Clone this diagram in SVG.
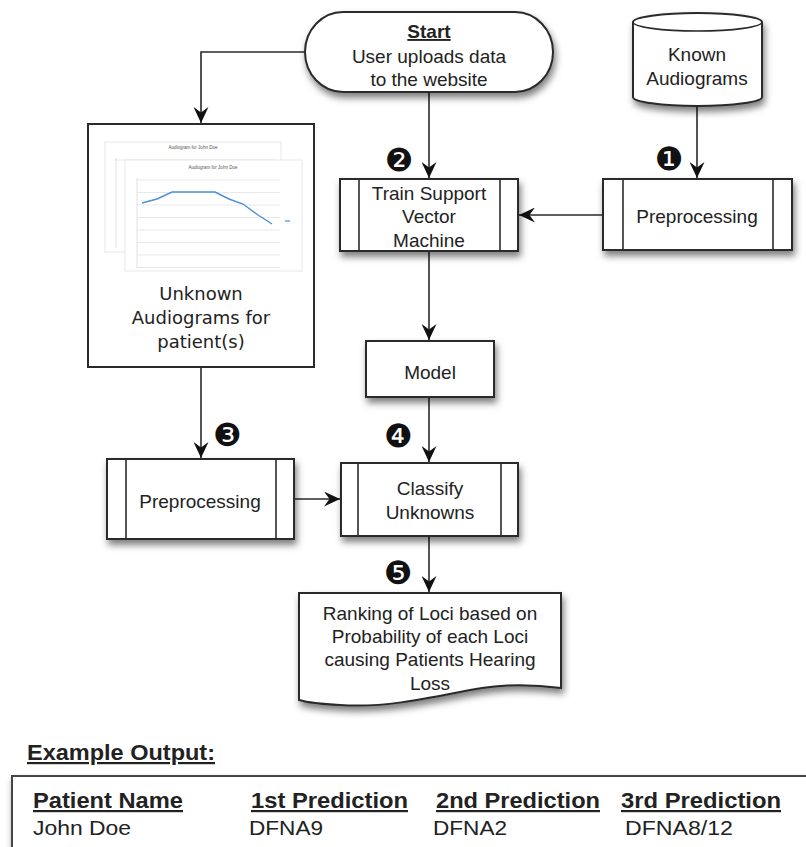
<svg xmlns="http://www.w3.org/2000/svg" width="806" height="847" viewBox="0 0 806 847">
<style>
.box{fill:#fff;stroke:#2a2a2a;stroke-width:2}
.inner{stroke:#2a2a2a;stroke-width:1.6;fill:none}
.t{font-family:"Liberation Sans",Arial,sans-serif;font-size:19px;fill:#222;text-anchor:middle}
.tl{font-family:"DejaVu Sans",sans-serif;font-size:18px;fill:#222;text-anchor:middle}
.badge{font-family:"DejaVu Sans",sans-serif;font-size:32px;fill:#111;text-anchor:middle}
.conn{stroke:#2a2a2a;stroke-width:1.6;fill:none;marker-end:url(#arr)}
.hd{font-family:"Liberation Sans",Arial,sans-serif;font-size:22px;font-weight:bold;fill:#222;text-decoration:underline}
.val{font-family:"Liberation Sans",Arial,sans-serif;font-size:19.5px;fill:#222}
.grid{stroke:#d8d8d8;stroke-width:0.6}
.tiny{font-family:"Liberation Sans",Arial,sans-serif;font-size:4.5px;fill:#555;text-anchor:middle}
</style>
<defs>
<filter id="sh" x="-20%" y="-20%" width="140%" height="150%">
<feDropShadow dx="2" dy="5" stdDeviation="3.5" flood-color="#000" flood-opacity="0.5"/>
</filter>
<marker id="arr" markerUnits="userSpaceOnUse" markerWidth="17" markerHeight="15" viewBox="0 0 17 15" refX="16" refY="7.5" orient="auto">
<path d="M0,0 L16,7.5 L0,15 L5.5,7.5 Z" fill="#111"/>
</marker>
</defs>
<rect width="806" height="847" fill="#fff"/>

<g id="connectors">
<path class="conn" d="M305,52 H201 V123"/>
<path class="conn" d="M429,92 V178"/>
<path class="conn" d="M697,106 V178"/>
<path class="conn" d="M602,215 H519"/>
<path class="conn" d="M429,251 V340"/>
<path class="conn" d="M429,397 V462"/>
<path class="conn" d="M201,367 V458"/>
<path class="conn" d="M294,499 H340"/>
<path class="conn" d="M429,536 V592"/>
</g>

<g id="start">
<rect class="box" x="305" y="12" width="248" height="80" rx="38" ry="40" filter="url(#sh)"/>
<text class="t" x="429" y="38" font-weight="bold" text-decoration="underline">Start</text>
<text class="t" x="429" y="63">User uploads data</text>
<text class="t" x="429" y="86">to the website</text>
</g>

<g id="known-audiograms">
<path class="box" filter="url(#sh)" d="M633,22 A64.5,9 0 0 1 762,22 V97 A64.5,9 0 0 1 633,97 Z"/>
<path class="inner" d="M633,22 A64.5,9 0 0 0 762,22"/>
<text class="t" x="697" y="61">Known</text>
<text class="t" x="697" y="85">Audiograms</text>
</g>

<g id="unknown-audiograms">
<rect class="box" x="88" y="124" width="226" height="243"/>
<g id="chart-back">
<rect x="105" y="142" width="176" height="110" fill="#fff" stroke="#e0e0e0" stroke-width="0.8"/>
<text class="tiny" x="193" y="149">Audiogram for John Doe</text>
<line class="grid" x1="115" y1="160" x2="275" y2="160"/>
<line x1="116" y1="158" x2="116" y2="248" stroke="#ccc" stroke-width="0.6"/>
</g>
<g id="chart-front">
<rect x="125" y="160" width="177" height="111" fill="#fff" stroke="#e0e0e0" stroke-width="0.8"/>
<text class="tiny" x="213" y="169">Audiogram for John Doe</text>
<line x1="137" y1="178" x2="137" y2="268" stroke="#ccc" stroke-width="0.6"/>
<line class="grid" x1="137" y1="180" x2="280" y2="180"/>
<line class="grid" x1="137" y1="192.5" x2="280" y2="192.5"/>
<line class="grid" x1="137" y1="205" x2="280" y2="205"/>
<line class="grid" x1="137" y1="217.5" x2="280" y2="217.5"/>
<line class="grid" x1="137" y1="230" x2="280" y2="230"/>
<line class="grid" x1="137" y1="242.5" x2="280" y2="242.5"/>
<line class="grid" x1="137" y1="255" x2="280" y2="255"/>
<line class="grid" x1="137" y1="267.5" x2="280" y2="267.5"/>
<polyline points="142,203 157,199 172,192 187,192 201,192 215,192 229,199 243,204 258,215 272,224" fill="none" stroke="#4a90d9" stroke-width="1.4"/>
<line x1="285" y1="221" x2="290" y2="221" stroke="#4a90d9" stroke-width="1.2"/>
</g>
<text class="tl" x="201" y="300">Unknown</text>
<text class="tl" x="201" y="324">Audiograms for</text>
<text class="tl" x="201" y="348">patient(s)</text>
</g>

<g id="train-svm">
<rect class="box" x="340" y="179" width="178" height="72" filter="url(#sh)"/>
<line class="inner" x1="359" y1="179" x2="359" y2="251"/>
<line class="inner" x1="500" y1="179" x2="500" y2="251"/>
<text class="t" x="429" y="200">Train Support</text>
<text class="t" x="429" y="223">Vector</text>
<text class="t" x="429" y="247">Machine</text>
</g>

<g id="preprocessing-known">
<rect class="box" x="603" y="179" width="189" height="71" filter="url(#sh)"/>
<line class="inner" x1="623" y1="179" x2="623" y2="250"/>
<line class="inner" x1="773" y1="179" x2="773" y2="250"/>
<text class="t" x="697" y="223">Preprocessing</text>
</g>

<g id="model">
<rect class="box" x="366" y="341" width="128" height="56" filter="url(#sh)"/>
<text class="t" x="430" y="379">Model</text>
</g>

<g id="preprocessing-unknown">
<rect class="box" x="107" y="459" width="187" height="80" filter="url(#sh)"/>
<line class="inner" x1="126" y1="459" x2="126" y2="539"/>
<line class="inner" x1="276" y1="459" x2="276" y2="539"/>
<text class="t" x="200" y="508">Preprocessing</text>
</g>

<g id="classify">
<rect class="box" x="341" y="463" width="177" height="73" filter="url(#sh)"/>
<line class="inner" x1="358" y1="463" x2="358" y2="536"/>
<line class="inner" x1="501" y1="463" x2="501" y2="536"/>
<text class="t" x="430" y="495">Classify</text>
<text class="t" x="430" y="519">Unknowns</text>
</g>

<g id="ranking">
<path class="box" filter="url(#sh)" d="M299,593 H561 V688 C530,684 500,684 470,690 C420,700 380,708 340,705 C320,704 306,702 299,700 Z"/>
<text class="t" x="430" y="620">Ranking of Loci based on</text>
<text class="t" x="430" y="643">Probability of each Loci</text>
<text class="t" x="430" y="666">causing Patients Hearing</text>
<text class="t" x="430" y="690">Loss</text>
</g>

<g id="badges">
<text class="badge" x="669" y="170">❶</text>
<text class="badge" x="399" y="171">❷</text>
<text class="badge" x="227" y="446">❸</text>
<text class="badge" x="398" y="447">❹</text>
<text class="badge" x="398" y="584">❺</text>
</g>

<g id="example-output">
<text class="hd" x="27" y="760" textLength="188" lengthAdjust="spacingAndGlyphs">Example Output:</text>
<rect x="12" y="776" width="820" height="90" fill="#fff" stroke="#444" stroke-width="2" filter="url(#sh)"/>
<text class="hd" x="33" y="808" textLength="150" lengthAdjust="spacingAndGlyphs">Patient Name</text>
<text class="hd" x="251" y="808" textLength="157" lengthAdjust="spacingAndGlyphs">1st Prediction</text>
<text class="hd" x="436" y="808" textLength="164" lengthAdjust="spacingAndGlyphs">2nd Prediction</text>
<text class="hd" x="621" y="808" textLength="160" lengthAdjust="spacingAndGlyphs">3rd Prediction</text>
<text class="val" x="33" y="835" textLength="98" lengthAdjust="spacingAndGlyphs">John Doe</text>
<text class="val" x="249" y="835" textLength="74" lengthAdjust="spacingAndGlyphs">DFNA9</text>
<text class="val" x="433" y="835" textLength="74" lengthAdjust="spacingAndGlyphs">DFNA2</text>
<text class="val" x="625" y="835" textLength="108" lengthAdjust="spacingAndGlyphs">DFNA8/12</text>
</g>
</svg>
